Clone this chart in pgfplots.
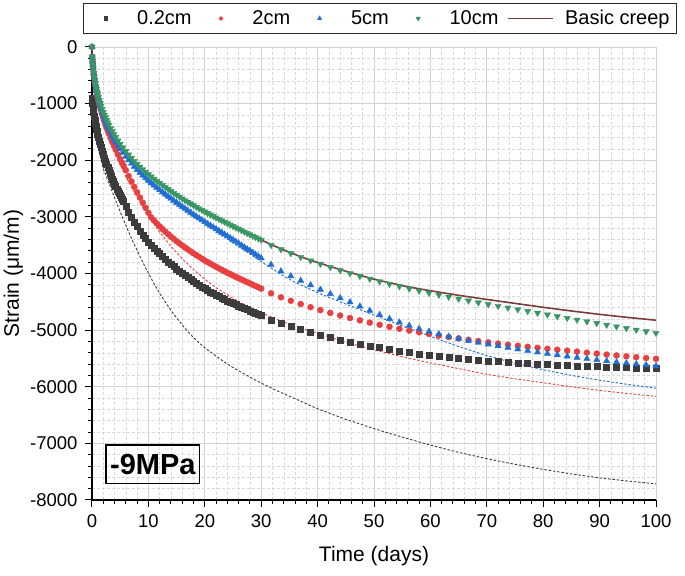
\documentclass[border=0pt]{standalone}
\usepackage{fontspec}
\setmainfont{Liberation Sans}
\usepackage{pgfplots}
\pgfplotsset{compat=1.18}

\definecolor{cBlack}{RGB}{60,60,60}
\definecolor{cRed}{RGB}{232,64,64}
\definecolor{cBlue}{RGB}{32,110,212}
\definecolor{cGreen}{RGB}{56,150,100}
\definecolor{cBrown}{RGB}{122,62,58}

\begin{document}
\begin{tikzpicture}
\begin{axis}[
  name=ax,
  scale only axis, width=564pt, height=453pt,
  xmin=0, xmax=100, ymin=-8000, ymax=0,
  xtick={0,10,...,100}, ytick={-8000,-7000,...,0},
  minor x tick num=4, minor y tick num=4,
  axis x line*=bottom, axis y line*=left,
  axis line style={line width=1.2pt, black},
  tick align=outside, major tick length=7pt, minor tick length=4pt,
  every tick/.style={black, line width=1pt},
  grid=both,
  major grid style={gray!35, line width=0.7pt},
  minor grid style={gray!30, densely dashed, line width=0.5pt},
  /pgf/number format/assume math mode=true,
  /pgf/number format/1000 sep={},
  tick label style={font=\fontsize{18.5}{20}\selectfont},
  xticklabel style={yshift=-4pt},
  yticklabel style={xshift=-4pt},
  every axis x label/.style={at={(ticklabel cs:0.5)}, anchor=near ticklabel, yshift=-12pt},
  every axis y label/.style={at={(ticklabel cs:0.5)}, rotate=90, anchor=near ticklabel},
  label style={font=\fontsize{21}{24}\selectfont},
  xlabel={Time (days)}, ylabel={Strain (μm/m)},
  legend columns=-1,
  legend style={
    at={(-0.016,1.097)}, anchor=north west,
    draw=black!85, line width=0.8pt,
    font=\fontsize{20}{22}\selectfont,
    inner xsep=2pt, inner ysep=4pt,
    nodes={inner xsep=5pt, inner ysep=3pt},
    /tikz/every odd column/.append style={column sep=6pt},
    /tikz/every even column/.append style={column sep=4pt},
    /tikz/column 8/.append style={column sep=7pt},
    /tikz/column 9/.append style={column sep=2pt},
  },
]

% model curves (dashed)
\addplot[forget plot, cBlack, line width=0.9pt, dash pattern=on 2.5pt off 1.8pt] coordinates {
(0,-950) (0.3,-1200) (0.6,-1420) (1,-1680) (1.4,-1920) (2,-2150) (3,-2400) (4,-2660) (5,-2910)
(6,-3150) (7,-3380) (8,-3595) (9,-3800) (10,-3995) (11,-4180) (12,-4350) (13,-4505) (14,-4650)
(15,-4785) (16,-4910) (17,-5025) (18,-5130) (19,-5225) (20,-5310) (22,-5460) (24,-5600) (26,-5720)
(28,-5830) (30,-5935) (33,-6080) (36,-6210) (40,-6390) (45,-6575) (50,-6740) (55,-6890) (60,-7030)
(65,-7160) (70,-7270) (75,-7370) (80,-7460) (85,-7540) (90,-7610) (95,-7665) (100,-7715)};
\addplot[forget plot, cRed, line width=0.9pt, dash pattern=on 2.5pt off 1.8pt] coordinates {
(0,0) (0.5,-640) (1,-900) (2,-1270) (3,-1560) (4,-1830) (5,-2060) (6,-2290) (8,-2650) (10,-2980)
(12,-3270) (14,-3520) (16,-3740) (18,-3930) (20,-4100) (22,-4250) (25,-4440) (28,-4600) (30,-4690)
(33,-4820) (36,-4930) (40,-5060) (45,-5210) (50,-5350) (55,-5470) (60,-5580) (65,-5680) (70,-5780)
(75,-5860) (80,-5930) (85,-6000) (90,-6065) (95,-6120) (100,-6170)};
\addplot[forget plot, cBlue, line width=0.9pt, dash pattern=on 2.5pt off 1.8pt] coordinates {
(0,0) (0.5,-640) (1,-900) (2,-1250) (3,-1500) (4,-1690) (5,-1840) (6,-1980) (8,-2210) (10,-2400)
(12,-2570) (14,-2720) (16,-2860) (18,-3000) (20,-3130) (22,-3260) (24,-3390) (26,-3520) (28,-3650)
(30,-3790) (32,-3920) (34,-4045) (36,-4155) (40,-4340) (45,-4540) (50,-4735) (55,-4925) (60,-5110)
(65,-5290) (70,-5450) (75,-5585) (80,-5700) (85,-5800) (90,-5885) (95,-5960) (100,-6025)};

% 0.2cm
\addplot[forget plot, only marks, mark=square*, mark size=3pt, cBlack] coordinates {
(0.02,-900) (0.05,-950) (0.1,-1000) (0.15,-1040) (0.2,-1080) (0.3,-1160) (0.4,-1230) (0.5,-1290)
(0.6,-1350) (0.7,-1400) (0.8,-1450) (0.9,-1495) (1.0,-1540) (1.15,-1600) (1.3,-1660) (1.45,-1715)
(1.6,-1770) (1.8,-1835) (2.0,-1900) (2.2,-1960) (2.4,-2020) (2.6,-2075) (2.8,-2130) (3.0,-2180)
(3.2,-2230) (3.4,-2280) (3.6,-2330) (3.8,-2375) (4.0,-2420) (4.2,-2465) (4.4,-2510) (4.6,-2550)
(4.8,-2590) (5.0,-2625) (5.2,-2660) (5.4,-2695) (5.6,-2730)
(6.0,-2820) (6.5,-2915) (7.0,-3005) (7.5,-3090) (8.0,-3170) (8.5,-3245) (9.0,-3315) (9.5,-3380)
(10.0,-3441) (10.5,-3498) (11.0,-3552) (11.5,-3602) (12.0,-3650) (12.5,-3700) (13.0,-3748)
(13.5,-3794) (14.0,-3838) (14.5,-3880) (15.0,-3921) (15.5,-3961) (16.0,-4000) (16.5,-4037)
(17.0,-4073) (17.5,-4108) (18.0,-4142) (18.5,-4175) (19.0,-4207) (19.5,-4238) (20.0,-4268)
(20.5,-4297) (21.0,-4325) (21.5,-4353) (22.0,-4380) (22.5,-4406) (23.0,-4432) (23.5,-4457)
(24.0,-4481) (24.5,-4505) (25.0,-4528) (25.5,-4551) (26.0,-4573) (26.5,-4595) (27.0,-4616)
(27.5,-4637) (28.0,-4658) (28.5,-4678) (29.0,-4698) (29.5,-4718) (30.0,-4738)
(31.75,-4820) (33.5,-4880) (35.25,-4937) (37,-4990) (38.75,-5040) (40.5,-5087) (42.25,-5130)
(44,-5170) (45.75,-5208) (47.5,-5244) (49.25,-5278) (51,-5310) (52.75,-5340) (54.5,-5368)
(56.25,-5394) (58,-5418) (59.75,-5440) (61.5,-5461) (63.25,-5480) (65,-5498) (66.75,-5514)
(68.5,-5529) (70.25,-5543) (72,-5556) (73.75,-5568) (75.5,-5579) (77.25,-5589) (79,-5598)
(80.75,-5607) (82.5,-5615) (84.25,-5623) (86,-5630) (87.75,-5637) (89.5,-5643) (91.25,-5649)
(93,-5654) (94.75,-5659) (96.5,-5664) (98.25,-5668) (100,-5672)};

% 2cm
\addplot[forget plot, only marks, mark=*, mark size=3pt, cRed] coordinates {
(0,0) (0.05,-170) (0.1,-255) (0.15,-320) (0.2,-378) (0.3,-472) (0.4,-550) (0.5,-620) (0.6,-682)
(0.7,-738) (0.8,-790) (0.9,-840) (1.0,-886) (1.15,-950) (1.3,-1010) (1.45,-1067) (1.6,-1120)
(1.8,-1188) (2.0,-1252) (2.2,-1313) (2.4,-1371) (2.6,-1427) (2.8,-1481) (3.0,-1533) (3.3,-1608)
(3.6,-1680) (3.9,-1749) (4.2,-1815) (4.6,-1900) (5.0,-1980) (5.3,-2040) (5.6,-2100) (6.0,-2175)
(6.5,-2280) (7.0,-2375) (7.5,-2470) (8.0,-2565) (8.5,-2660) (9.0,-2750) (9.5,-2840) (10.0,-2928)
(10.5,-3010) (11.0,-3065) (11.5,-3117) (12.0,-3167) (12.5,-3215) (13.0,-3261) (13.5,-3306)
(14.0,-3349) (14.5,-3390) (15.0,-3430) (15.5,-3468) (16.0,-3505) (16.5,-3541) (17.0,-3576)
(17.5,-3610) (18.0,-3643) (18.5,-3675) (19.0,-3707) (19.5,-3739) (20.0,-3770) (20.5,-3799)
(21.0,-3827) (21.5,-3855) (22.0,-3882) (22.5,-3909) (23.0,-3935) (23.5,-3961) (24.0,-3986)
(24.5,-4011) (25.0,-4035) (25.5,-4059) (26.0,-4083) (26.5,-4106) (27.0,-4129) (27.5,-4152)
(28.0,-4175) (28.5,-4198) (29.0,-4221) (29.5,-4244) (30.0,-4267)
(31.75,-4350) (33.5,-4420) (35.25,-4482) (37,-4540) (38.75,-4595) (40.5,-4647) (42.25,-4696)
(44,-4742) (45.75,-4786) (47.5,-4828) (49.25,-4868) (51,-4906) (52.75,-4942) (54.5,-4976)
(56.25,-5008) (58,-5039) (59.75,-5068) (61.5,-5096) (63.25,-5122) (65,-5147) (66.75,-5171)
(68.5,-5194) (70.25,-5216) (72,-5237) (73.75,-5257) (75.5,-5276) (77.25,-5294) (79,-5312)
(80.75,-5329) (82.5,-5346) (84.25,-5362) (86,-5380) (87.75,-5398) (89.5,-5415) (91.25,-5432)
(93,-5448) (94.75,-5463) (96.5,-5478) (98.25,-5493) (100,-5507)};

% 5cm
\addplot[forget plot, only marks, mark=triangle*, mark size=3.6pt, cBlue] coordinates {
(0,0) (0.05,-170) (0.1,-252) (0.15,-317) (0.2,-373) (0.3,-465) (0.4,-537) (0.5,-600) (0.6,-659)
(0.7,-713) (0.8,-764) (0.9,-812) (1.0,-860) (1.15,-925) (1.3,-982) (1.45,-1036) (1.6,-1088)
(1.8,-1151) (2.0,-1210) (2.2,-1263) (2.4,-1313) (2.6,-1361) (2.8,-1407) (3.0,-1451) (3.3,-1513)
(3.6,-1571) (3.9,-1627) (4.2,-1678) (4.6,-1743) (5.0,-1800)
(5.5,-1866) (6.0,-1933) (6.5,-1995) (7.0,-2056) (7.5,-2113) (8.0,-2165) (8.5,-2218) (9.0,-2265)
(9.5,-2312) (10.0,-2360) (10.5,-2402) (11.0,-2445) (11.5,-2487) (12.0,-2525) (12.5,-2562)
(13.0,-2600) (13.5,-2637) (14.0,-2675) (14.5,-2712) (15.0,-2747) (15.5,-2783) (16.0,-2817)
(16.5,-2853) (17.0,-2888) (17.5,-2923) (18.0,-2957) (18.5,-2991) (19.0,-3024) (19.5,-3057)
(20.0,-3089) (20.5,-3121) (21.0,-3152) (21.5,-3183) (22.0,-3214) (22.5,-3246) (23.0,-3277)
(23.5,-3308) (24.0,-3340) (24.5,-3372) (25.0,-3405) (25.5,-3438) (26.0,-3469) (26.5,-3502)
(27.0,-3535) (27.5,-3568) (28.0,-3597) (28.5,-3630) (29.0,-3663) (29.5,-3696) (30.0,-3728)
(31.75,-3845) (33.5,-3960) (35.25,-4045) (37,-4125) (38.75,-4205) (40.5,-4283) (42.25,-4360)
(44,-4433) (45.75,-4505) (47.5,-4580) (49.25,-4655) (51,-4730) (52.75,-4800) (54.5,-4862)
(56.25,-4920) (58,-4975) (59.75,-5025) (61.5,-5070) (63.25,-5112) (65,-5150) (66.75,-5185)
(68.5,-5218) (70.25,-5250) (72,-5280) (73.75,-5309) (75.5,-5337) (77.25,-5364) (79,-5390)
(80.75,-5415) (82.5,-5439) (84.25,-5462) (86,-5484) (87.75,-5505) (89.5,-5525) (91.25,-5545)
(93,-5564) (94.75,-5582) (96.5,-5600) (98.25,-5617) (100,-5634)};

% 10cm
\addplot[forget plot, only marks, mark=triangle*, mark size=3.6pt, mark options={rotate=180}, cGreen] coordinates {
(0,0) (0.05,-170) (0.1,-250) (0.15,-315) (0.2,-370) (0.3,-460) (0.4,-530) (0.5,-590) (0.6,-645)
(0.7,-695) (0.8,-742) (0.9,-787) (1.0,-830) (1.15,-890) (1.3,-943) (1.45,-993) (1.6,-1040)
(1.8,-1097) (2.0,-1150) (2.2,-1200) (2.4,-1247) (2.6,-1292) (2.8,-1335) (3.0,-1376) (3.3,-1435)
(3.6,-1490) (3.9,-1543) (4.2,-1592) (4.6,-1655) (5.0,-1710)
(5.5,-1775) (6.0,-1840) (6.5,-1900) (7.0,-1960) (7.5,-2015) (8.0,-2065) (8.5,-2115) (9.0,-2160)
(9.5,-2205) (10.0,-2250) (10.5,-2290) (11.0,-2330) (11.5,-2370) (12.0,-2405) (12.5,-2440)
(13.0,-2475) (13.5,-2510) (14.0,-2545) (14.5,-2580) (15.0,-2612) (15.5,-2645) (16.0,-2677)
(16.5,-2708) (17.0,-2738) (17.5,-2768) (18.0,-2797) (18.5,-2826) (19.0,-2854) (19.5,-2882)
(20.0,-2909) (20.5,-2936) (21.0,-2962) (21.5,-2988) (22.0,-3014) (22.5,-3040) (23.0,-3065)
(23.5,-3090) (24.0,-3115) (24.5,-3140) (25.0,-3165) (25.5,-3190) (26.0,-3214) (26.5,-3239)
(27.0,-3263) (27.5,-3288) (28.0,-3312) (28.5,-3336) (29.0,-3360) (29.5,-3384) (30.0,-3408)
(31.75,-3500) (33.5,-3575) (35.25,-3645) (37,-3710) (38.75,-3772) (40.5,-3832) (42.25,-3890)
(44,-3945) (45.75,-3998) (47.5,-4048) (49.25,-4096) (51,-4142) (52.75,-4186) (54.5,-4228)
(56.25,-4268) (58,-4306) (59.75,-4343) (61.5,-4379) (63.25,-4414) (65,-4448) (66.75,-4481)
(68.5,-4513) (70.25,-4544) (72,-4575) (73.75,-4605) (75.5,-4636) (77.25,-4666) (79,-4697)
(80.75,-4727) (82.5,-4758) (84.25,-4788) (86,-4818) (87.75,-4848) (89.5,-4878) (91.25,-4908)
(93,-4937) (94.75,-4966) (96.5,-4995) (98.25,-5024) (100,-5052)};

% basic creep
\addplot[forget plot, cBrown, line width=1.6pt] coordinates {
(0,0) (0.05,-170) (0.1,-250) (0.2,-370) (0.3,-460) (0.5,-590) (0.7,-695) (1,-830) (1.3,-943)
(1.6,-1040) (2,-1150) (2.5,-1270) (3,-1376) (3.6,-1490) (4.2,-1592) (5,-1710) (6,-1840) (7,-1960)
(8,-2065) (9,-2160) (10,-2250) (11,-2330) (12,-2405) (13,-2475) (14,-2545) (15,-2612) (16,-2677)
(17,-2738) (18,-2797) (19,-2854) (20,-2909) (22,-3014) (24,-3115) (26,-3214) (28,-3312) (30,-3408)
(32,-3500) (34,-3585) (36,-3665) (38,-3740) (40,-3805) (42,-3870) (45,-3960) (48,-4045) (50,-4100)
(53,-4170) (56,-4235) (60,-4305) (65,-4385) (70,-4458) (75,-4528) (80,-4597) (85,-4662) (90,-4722)
(95,-4776) (100,-4825)};

\addlegendimage{legend image code/.code={\path (-20pt,0pt) (20pt,0pt); \draw[cBlack, mark size=1.7pt] plot[mark=square*] coordinates {(0pt,0pt)};}}
\addlegendentry{0.2cm}
\addlegendimage{legend image code/.code={\path (-20pt,0pt) (20pt,0pt); \draw[cRed, mark size=1.8pt] plot[mark=*] coordinates {(0pt,0pt)};}}
\addlegendentry{2cm}
\addlegendimage{legend image code/.code={\path (-20pt,0pt) (20pt,0pt); \draw[cBlue, mark size=2.2pt] plot[mark=triangle*] coordinates {(0pt,0pt)};}}
\addlegendentry{5cm}
\addlegendimage{legend image code/.code={\path (-20pt,0pt) (20pt,0pt); \draw[cGreen, mark size=2.2pt, mark options={rotate=180}] plot[mark=triangle*] coordinates {(0pt,0pt)};}}
\addlegendentry{10cm}
\addlegendimage{legend image code/.code={\draw[cBrown, line width=1.6pt] (0pt,0pt) -- (45pt,0pt);}}
\addlegendentry{Basic creep}

\node[draw, line width=1.5pt, inner xsep=4pt, inner ysep=9pt, font=\bfseries\fontsize{29}{30}\selectfont] at (axis cs:10.8,-7370) {-9MPa};
\end{axis}
\pgfresetboundingbox
\path[use as bounding box] ([xshift=-92pt,yshift=-76pt]ax.south west) rectangle ([xshift=29pt,yshift=47pt]ax.north east);
\end{tikzpicture}
\end{document}
